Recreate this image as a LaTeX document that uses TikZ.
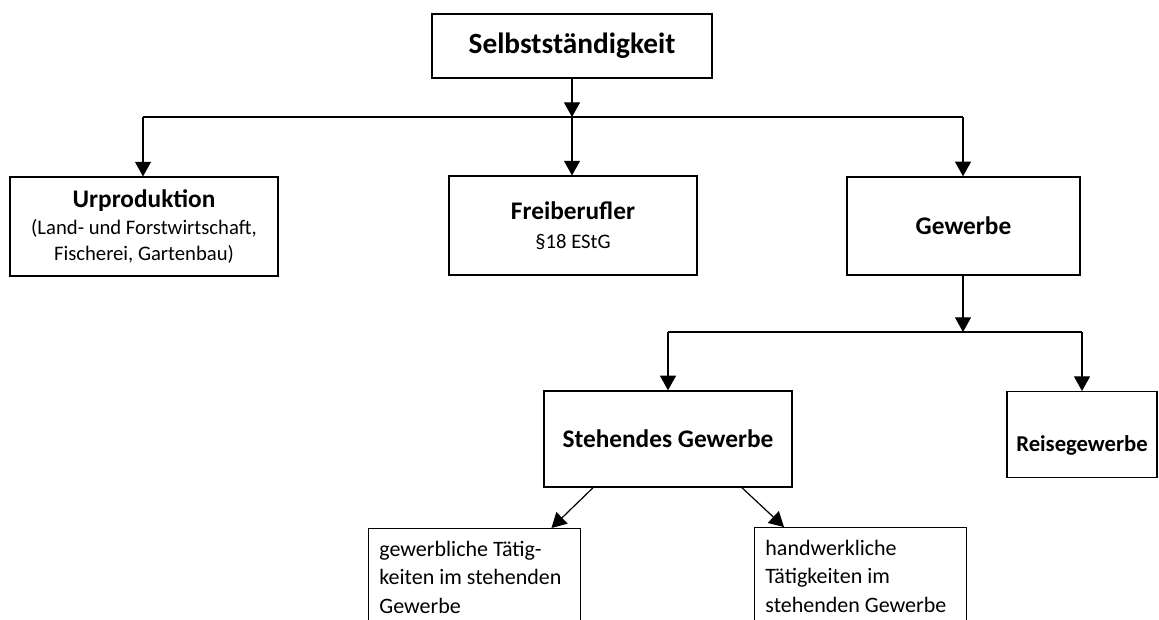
\documentclass[tikz,border=0pt]{standalone}
\usepackage{fontspec}
\setmainfont{Carlito}
\usetikzlibrary{arrows.meta,calc}
\tikzset{
  box/.style={draw,line width=1.1pt,align=center,inner sep=2pt,font=\fontsize{15.5}{19.5}\selectfont},
  textbox/.style={draw,line width=1.1pt,align=flush left,anchor=north west,inner xsep=8pt,inner ysep=9pt,
    text width=#1,font=\fontsize{16.5}{21.4}\selectfont,text depth=80pt},
  pfeil/.style={line width=0.9pt,-{Triangle[length=11pt,width=12pt]}},
  leitung/.style={line width=0.9pt},
  titel/.style={font=\fontsize{19}{21}\selectfont\bfseries}
}
\newcommand{\boxtitel}[1]{{\fontsize{19}{21}\selectfont\bfseries #1}}
\begin{document}
\begin{tikzpicture}[x=0.75pt,y=-0.75pt]
  \useasboundingbox (0,0) rectangle (1159,619);
  \clip (0,0) rectangle (1159,619);
  % Ebene 1
  \node[box,minimum width=210pt,minimum height=48pt,font=\fontsize{22}{24}\selectfont\bfseries] (sel) at (572,46) {Selbstständigkeit};
  % Ebene 2
  \node[box,minimum width=201pt,minimum height=74pt] (urp) at (144,226.5)
    {\boxtitel{Urproduktion}\\[1pt](Land- und Forstwirtschaft,\\Fischerei, Gartenbau)};
  \node[box,minimum width=186pt,minimum height=74pt] (frei) at (573,225.5)
    {\boxtitel{Freiberufler}\\[2pt]§18 EStG};
  \node[box,titel,minimum width=175pt,minimum height=73.5pt] (gew) at (963.5,226) {Gewerbe};
  % Ebene 3
  \node[box,titel,minimum width=186pt,minimum height=72pt] (steh) at (668,439) {Stehendes Gewerbe};
  \node[box,minimum width=112.5pt,text height=43pt,text depth=17.5pt,font=\fontsize{17}{19}\selectfont\bfseries,anchor=north] (reise) at (1082,391) {Reisegewerbe};
  % Ebene 4
  \node[textbox=143pt] (gt) at (368,528) {gewerbliche Tätig-\\keiten im stehenden\\Gewerbe};
  \node[textbox=143pt] (ht) at (754,527) {handwerkliche\\Tätigkeiten im\\stehenden Gewerbe};
  % Verbindungen
  \coordinate (l1) at (143,117);
  \coordinate (r1) at (963,117);
  \coordinate (l2) at (668,332);
  \coordinate (r2) at (1082,332);
  \draw[pfeil] (sel.south) -- (sel.south |- l1);
  \draw[leitung] (l1) -- (r1);
  \draw[pfeil] (l1) -- (urp.north -| l1);
  \draw[pfeil] (sel.south |- l1) -- (frei.north -| sel.south);
  \draw[pfeil] (r1) -- (gew.north -| r1);
  \draw[pfeil] (gew.south -| r1) -- (r1 |- l2);
  \draw[leitung] (l2) -- (r2);
  \draw[pfeil] (l2) -- (steh.north -| l2);
  \draw[pfeil] (r2) -- (reise.north -| r2);
  \draw[pfeil] ($(steh.south)+(-75,0)$) -- ($(gt.north east)+(-30,0)$);
  \draw[pfeil] ($(steh.south)+(74,0)$) -- ($(ht.north west)+(30,0)$);
\end{tikzpicture}
\end{document}
